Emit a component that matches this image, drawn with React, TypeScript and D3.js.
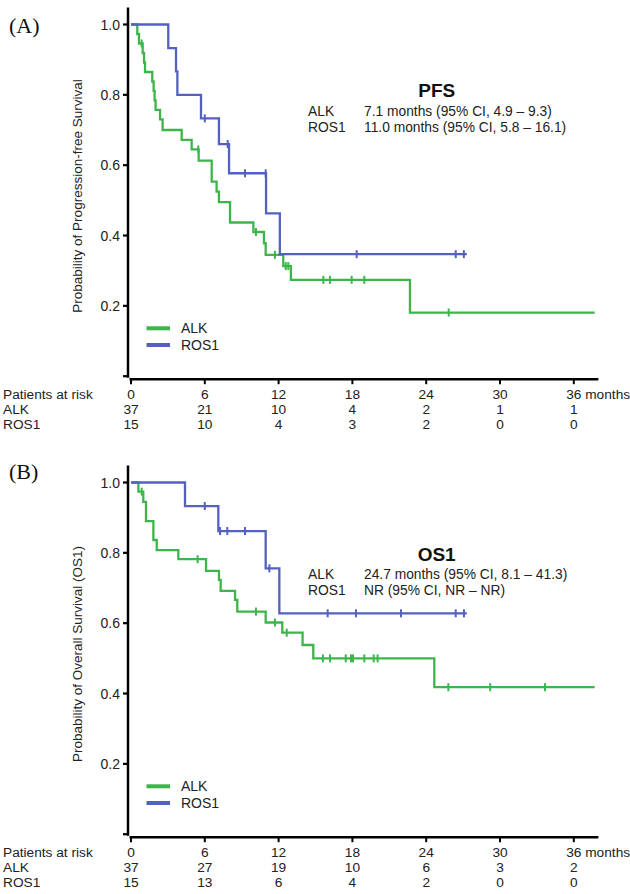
import React from 'react';
import * as d3 from 'd3';

// ---------- data ----------
const MONTH_TICKS = [0, 6, 12, 18, 24, 30, 36];
const PROB_TICKS = [0, 0.2, 0.4, 0.6, 0.8, 1.0];

// Panel A – PFS
const PFS_ALK_TIMES = [0, 0.51, 0.65, 0.95, 1.06, 1.14, 1.73, 1.84, 1.92, 2.0, 2.36, 2.57, 4.12, 4.93, 5.5, 6.56, 6.96, 7.15, 8.05, 9.95, 10.81, 10.95, 12.38, 13.0, 22.68];
const PFS_ALK_SURV = [1, 0.973, 0.946, 0.919, 0.892, 0.865, 0.838, 0.811, 0.784, 0.757, 0.73, 0.7, 0.672, 0.645, 0.613, 0.553, 0.525, 0.495, 0.437, 0.41, 0.378, 0.345, 0.313, 0.274, 0.181];
const PFS_ALK_CENSOR = [0.87, 5.47, 10.16, 11.7, 12.58, 12.79, 15.64, 16.18, 17.94, 18.97, 25.83];
const PFS_ALK_END = 37.7;

const PFS_ROS1_TIMES = [0, 3.03, 3.66, 3.77, 5.69, 7.15, 7.97, 10.98, 12.1];
const PFS_ROS1_SURV = [1, 0.933, 0.867, 0.8, 0.733, 0.66, 0.577, 0.463, 0.347];
const PFS_ROS1_CENSOR = [6.0, 7.86, 9.27, 10.95, 18.35, 26.4, 27.06];
const PFS_ROS1_END = 27.3;

// Panel B – OS1
const OS_ALK_TIMES = [0, 0.6, 1.0, 1.22, 1.82, 2.09, 3.85, 6.1, 7.15, 7.29, 8.46, 8.64, 10.95, 12.3, 13.95, 14.82, 24.66];
const OS_ALK_SURV = [1, 0.974, 0.945, 0.89, 0.8365, 0.808, 0.782, 0.749, 0.723, 0.692, 0.666, 0.633, 0.602, 0.573, 0.538, 0.5, 0.418];
const OS_ALK_CENSOR = [0.87, 5.42, 10.16, 11.7, 12.66, 15.6, 16.18, 17.46, 17.89, 18.05, 18.97, 19.73, 20.05, 25.8, 29.2, 33.66];
const OS_ALK_END = 37.7;

const OS_ROS1_TIMES = [0, 4.39, 7.1, 10.95, 12.06];
const OS_ROS1_SURV = [1, 0.933, 0.862, 0.756, 0.628];
const OS_ROS1_CENSOR = [6.0, 7.24, 7.83, 9.27, 11.25, 15.99, 18.29, 21.95, 26.4, 27.07];
const OS_ROS1_END = 27.3;

// Risk tables
const PFS_RISK_ALK = [37, 21, 10, 4, 2, 1, 1];
const PFS_RISK_ROS1 = [15, 10, 4, 3, 2, 0, 0];
const OS_RISK_ALK = [37, 27, 19, 10, 6, 3, 2];
const OS_RISK_ROS1 = [15, 13, 6, 4, 2, 0, 0];

const GREEN = '#3db54a';
const BLUE = '#5461c0';
const SANS = '"Liberation Sans", Arial, Helvetica, sans-serif';
const SERIF = '"Liberation Serif", "Times New Roman", serif';

type Series = { times: number[]; surv: number[]; censor: number[]; end: number; color: string };

function survAt(s: Series, t: number) {
  let v = s.surv[0];
  for (let i = 0; i < s.times.length; i++) if (s.times[i] <= t) v = s.surv[i];
  return v;
}

function Panel(props: {
  dy: number;
  letter: string;
  letterY: number;
  yLabel: string;
  title: string;
  titleY: number;
  rowY: number[];
  alkText: string;
  rosText: string;
  series: Series[];
  riskAlk: number[];
  riskRos: number[];
}) {
  const { dy } = props;
  const x = d3.scaleLinear().domain([0, 38]).range([131, 131 + 12.3 * 38]);
  const y = d3.scaleLinear().domain([0, 1]).range([376.2 + dy, 24.5 + dy]);
  const line = d3
    .line<[number, number]>()
    .x((d) => x(d[0]))
    .y((d) => y(d[1]))
    .curve(d3.curveStepAfter);

  const axisX = 128;
  const xAxisY = y(0) + 3;

  return (
    <g>
      <text x={9} y={props.letterY} fontFamily={SERIF} fontSize={22} fill="#111">
        {props.letter}
      </text>
      {/* y axis */}
      <line x1={axisX} x2={axisX} y1={y(1.048)} y2={y(0) + 1.5} stroke="#000" strokeWidth={2.5} />
      {PROB_TICKS.map((t) => (
        <g key={t}>
          <line x1={axisX - 5} x2={axisX} y1={y(t)} y2={y(t)} stroke="#000" strokeWidth={2.2} />
          {t > 0 && (
            <text x={120} y={y(t) + 5} textAnchor="end" fontFamily={SANS} fontSize={14} fill="#222">
              {t.toFixed(1)}
            </text>
          )}
        </g>
      ))}
      <text
        transform={`translate(82, ${196 + dy}) rotate(-90)`}
        textAnchor="middle"
        fontFamily={SANS}
        fontSize={13.5}
        fill="#222"
      >
        {props.yLabel}
      </text>
      {/* x axis */}
      <line x1={129.5} x2={x(38)} y1={xAxisY} y2={xAxisY} stroke="#000" strokeWidth={2.5} />
      {MONTH_TICKS.map((t) => (
        <line key={t} x1={x(t)} x2={x(t)} y1={xAxisY} y2={xAxisY + 5} stroke="#000" strokeWidth={2} />
      ))}
      {/* curves */}
      {props.series.map((s, i) => {
        const pts: [number, number][] = s.times.map((t, k) => [t, s.surv[k]] as [number, number]);
        pts.push([s.end, s.surv[s.surv.length - 1]]);
        return (
          <g key={i}>
            <path d={line(pts) || ''} fill="none" stroke={s.color} strokeWidth={2.3} />
            {s.censor.map((c, k) => (
              <line
                key={k}
                x1={x(c)}
                x2={x(c)}
                y1={y(survAt(s, c)) - 4}
                y2={y(survAt(s, c)) + 4}
                stroke={s.color}
                strokeWidth={2}
              />
            ))}
          </g>
        );
      })}
      {/* legend */}
      <line x1={146.5} x2={170} y1={327.3 + dy + 1} y2={327.3 + dy + 1} stroke={GREEN} strokeWidth={4} />
      <text x={181} y={332.3 + dy + 1} fontFamily={SANS} fontSize={14} fill="#222">ALK</text>
      <line x1={146.5} x2={170} y1={344 + dy + 1} y2={344 + dy + 1} stroke={BLUE} strokeWidth={4} />
      <text x={181} y={349 + dy + 1} fontFamily={SANS} fontSize={14} fill="#222">ROS1</text>
      {/* annotation */}
      <text x={436.7} y={props.titleY} textAnchor="middle" fontFamily={SANS} fontWeight="bold" fontSize={19} fill="#111">
        {props.title}
      </text>
      <text x={308} y={props.rowY[0]} fontFamily={SANS} fontSize={13.8} fill="#222">ALK</text>
      <text x={364} y={props.rowY[0]} fontFamily={SANS} fontSize={13.8} fill="#222">{props.alkText}</text>
      <text x={308} y={props.rowY[1]} fontFamily={SANS} fontSize={13.8} fill="#222">ROS1</text>
      <text x={364} y={props.rowY[1]} fontFamily={SANS} fontSize={13.8} fill="#222">{props.rosText}</text>
      {/* risk table */}
      <text x={3} y={399 + dy} fontFamily={SANS} fontSize={13.7} fill="#222">Patients at risk</text>
      <text x={3} y={414 + dy} fontFamily={SANS} fontSize={13.7} fill="#222">ALK</text>
      <text x={3} y={429 + dy} fontFamily={SANS} fontSize={13.7} fill="#222">ROS1</text>
      {MONTH_TICKS.map((t, i) => (
        <g key={t} fontFamily={SANS} fontSize={13.7} fill="#222">
          {i < MONTH_TICKS.length - 1 ? (
            <text x={x(t)} y={399 + dy} textAnchor="middle">{t}</text>
          ) : (
            <text x={x(t) - 7.6} y={399 + dy}>{`${t} months`}</text>
          )}
          <text x={x(t)} y={414 + dy} textAnchor="middle">{props.riskAlk[i]}</text>
          <text x={x(t)} y={429 + dy} textAnchor="middle">{props.riskRos[i]}</text>
        </g>
      ))}
    </g>
  );
}

export default function App() {
  const pfs: Series[] = [
    { times: PFS_ALK_TIMES, surv: PFS_ALK_SURV, censor: PFS_ALK_CENSOR, end: PFS_ALK_END, color: GREEN },
    { times: PFS_ROS1_TIMES, surv: PFS_ROS1_SURV, censor: PFS_ROS1_CENSOR, end: PFS_ROS1_END, color: BLUE },
  ];
  const os: Series[] = [
    { times: OS_ALK_TIMES, surv: OS_ALK_SURV, censor: OS_ALK_CENSOR, end: OS_ALK_END, color: GREEN },
    { times: OS_ROS1_TIMES, surv: OS_ROS1_SURV, censor: OS_ROS1_CENSOR, end: OS_ROS1_END, color: BLUE },
  ];
  return (
    <svg
      width={630}
      height={894}
      viewBox="0 0 630 894"
      style={{ position: 'absolute', left: 0, top: 0, background: '#fff' }}
    >
      <rect width={630} height={894} fill="#fff" />
      <Panel
        dy={0}
        letter="(A)"
        letterY={33}
        yLabel="Probability of Progression-free Survival"
        title="PFS"
        titleY={97.3}
        rowY={[116, 132.3]}
        alkText="7.1 months (95% CI, 4.9 – 9.3)"
        rosText="11.0 months (95% CI, 5.8 – 16.1)"
        series={pfs}
        riskAlk={PFS_RISK_ALK}
        riskRos={PFS_RISK_ROS1}
      />
      <Panel
        dy={458}
        letter="(B)"
        letterY={479}
        yLabel="Probability of Overall Survival (OS1)"
        title="OS1"
        titleY={560.7}
        rowY={[579.3, 594.8]}
        alkText="24.7 months (95% CI, 8.1 – 41.3)"
        rosText="NR (95% CI, NR – NR)"
        series={os}
        riskAlk={OS_RISK_ALK}
        riskRos={OS_RISK_ROS1}
      />
    </svg>
  );
}
